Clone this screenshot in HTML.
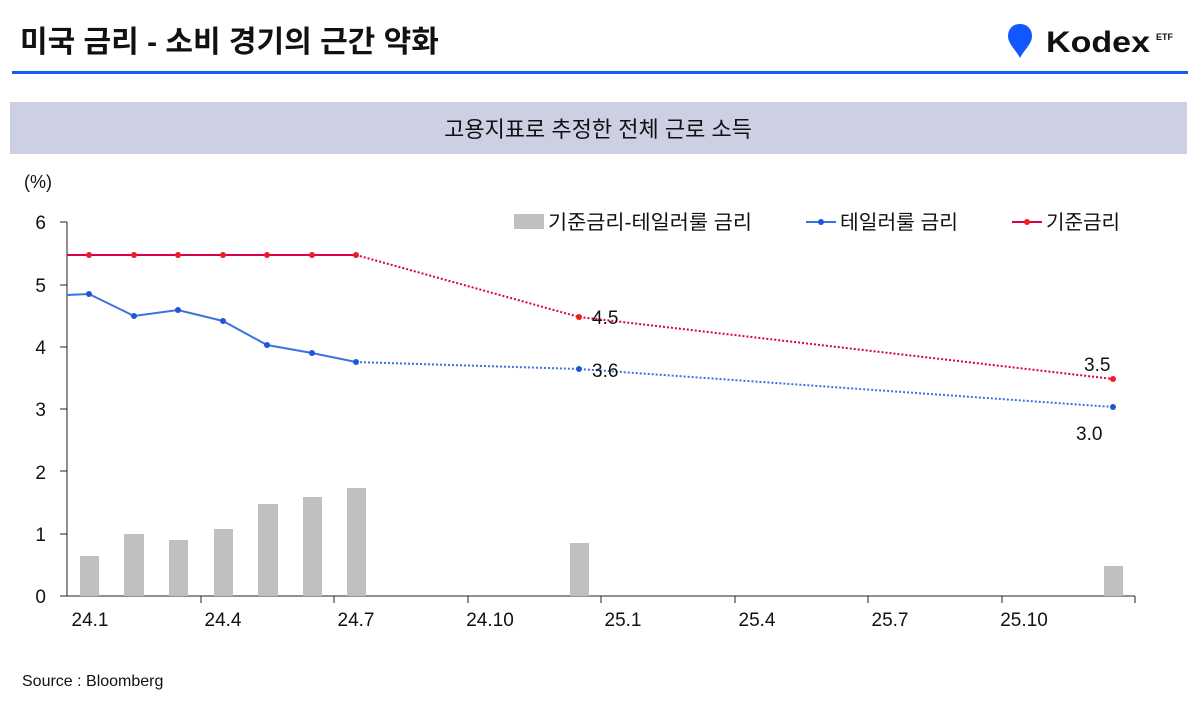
<!DOCTYPE html>
<html><head><meta charset="utf-8"><style>
body{margin:0;background:#fff;width:1200px;height:723px;overflow:hidden;font-family:"Liberation Sans","Noto Sans CJK KR",sans-serif}
</style></head><body>
<svg width="1200" height="723" xmlns="http://www.w3.org/2000/svg" font-family="Liberation Sans, Noto Sans CJK KR, sans-serif">
<text x="20" y="52" font-size="30" font-weight="bold" fill="#111">미국 금리 - 소비 경기의 근간 약화</text>
<path d="M1020 24 c-8 0 -12 6 -12 12 c0 8 8 14 12 22 c4 -8 12 -14 12 -22 c0 -6 -4 -12 -12 -12z" fill="#1257ff"/>
<text x="1046" y="52" font-size="30" font-weight="bold" fill="#111" textLength="104" lengthAdjust="spacingAndGlyphs">Kodex</text>
<text x="1156" y="40" font-size="9" font-weight="bold" fill="#111">ETF</text>
<rect x="12" y="71" width="1176" height="3" fill="#1a5cf0"/>
<rect x="10" y="102" width="1177" height="52" fill="#cdd0e3"/>
<text x="598" y="137" font-size="22" text-anchor="middle" fill="#111">고용지표로 추정한 전체 근로 소득</text>
<text x="24" y="188" font-size="18" fill="#111">(%)</text>
<g font-size="19" fill="#111" text-anchor="end">
<text x="46" y="229">6</text><text x="46" y="292">5</text><text x="46" y="354">4</text><text x="46" y="416">3</text><text x="46" y="479">2</text><text x="46" y="541">1</text><text x="46" y="603">0</text>
</g>
<g stroke="#222" stroke-width="1">
<line x1="67" y1="222" x2="67" y2="596"/>
<line x1="60" y1="222" x2="67" y2="222"/><line x1="60" y1="285" x2="67" y2="285"/><line x1="60" y1="347" x2="67" y2="347"/><line x1="60" y1="409" x2="67" y2="409"/><line x1="60" y1="471" x2="67" y2="471"/><line x1="60" y1="534" x2="67" y2="534"/>
<line x1="60" y1="596" x2="1135" y2="596"/>
<line x1="201" y1="596" x2="201" y2="603"/><line x1="334" y1="596" x2="334" y2="603"/><line x1="468" y1="596" x2="468" y2="603"/><line x1="601" y1="596" x2="601" y2="603"/><line x1="735" y1="596" x2="735" y2="603"/><line x1="868" y1="596" x2="868" y2="603"/><line x1="1002" y1="596" x2="1002" y2="603"/><line x1="1135" y1="596" x2="1135" y2="603"/>
</g>
<g fill="#bfbfbf">
<rect x="80" y="556" width="19" height="40"/><rect x="124" y="534" width="20" height="62"/><rect x="169" y="540" width="19" height="56"/><rect x="214" y="529" width="19" height="67"/><rect x="258" y="504" width="20" height="92"/><rect x="303" y="497" width="19" height="99"/><rect x="347" y="488" width="19" height="108"/><rect x="570" y="543" width="19" height="53"/><rect x="1104" y="566" width="19" height="30"/>
</g>
<g font-size="19" fill="#111" text-anchor="middle">
<text x="90" y="626">24.1</text><text x="223" y="626">24.4</text><text x="356" y="626">24.7</text><text x="490" y="626">24.10</text><text x="623" y="626">25.1</text><text x="757" y="626">25.4</text><text x="890" y="626">25.7</text><text x="1024" y="626">25.10</text>
</g>
<polyline points="67,255 356,255" fill="none" stroke="#d9004c" stroke-width="2"/>
<polyline points="356,255 579,317 1113,379" fill="none" stroke="#d9004c" stroke-width="2" stroke-dasharray="2,2"/>
<polyline points="67,295 89,294 134,316 178,310 223,321 267,345 312,353 356,362" fill="none" stroke="#3a73e0" stroke-width="2"/>
<polyline points="356,362 579,369 1113,407" fill="none" stroke="#3a73e0" stroke-width="2" stroke-dasharray="2,2"/>
<g fill="#ee1c25">
<circle cx="89" cy="255" r="3"/><circle cx="134" cy="255" r="3"/><circle cx="178" cy="255" r="3"/><circle cx="223" cy="255" r="3"/><circle cx="267" cy="255" r="3"/><circle cx="312" cy="255" r="3"/><circle cx="356" cy="255" r="3"/><circle cx="579" cy="317" r="3"/><circle cx="1113" cy="379" r="3"/>
</g>
<g fill="#1f55d6">
<circle cx="89" cy="294" r="3"/><circle cx="134" cy="316" r="3"/><circle cx="178" cy="310" r="3"/><circle cx="223" cy="321" r="3"/><circle cx="267" cy="345" r="3"/><circle cx="312" cy="353" r="3"/><circle cx="356" cy="362" r="3"/><circle cx="579" cy="369" r="3"/><circle cx="1113" cy="407" r="3"/>
</g>
<g font-size="19" fill="#111">
<text x="592" y="324">4.5</text><text x="592" y="377">3.6</text><text x="1084" y="371">3.5</text><text x="1076" y="440">3.0</text>
</g>
<rect x="514" y="214" width="30" height="15" fill="#bfbfbf"/>
<text x="548" y="229" font-size="20" fill="#111" textLength="204" lengthAdjust="spacingAndGlyphs">기준금리-테일러룰 금리</text>
<line x1="806" y1="222" x2="836" y2="222" stroke="#3a73e0" stroke-width="2"/><circle cx="821" cy="222" r="3" fill="#1f55d6"/>
<text x="840" y="229" font-size="20" fill="#111" textLength="118" lengthAdjust="spacingAndGlyphs">테일러룰 금리</text>
<line x1="1012" y1="222" x2="1042" y2="222" stroke="#d9004c" stroke-width="2"/><circle cx="1027" cy="222" r="3" fill="#ee1c25"/>
<text x="1046" y="229" font-size="20" fill="#111" textLength="74" lengthAdjust="spacingAndGlyphs">기준금리</text>
<text x="22" y="686" font-size="16" fill="#111">Source : Bloomberg</text>
</svg>
</body></html>
